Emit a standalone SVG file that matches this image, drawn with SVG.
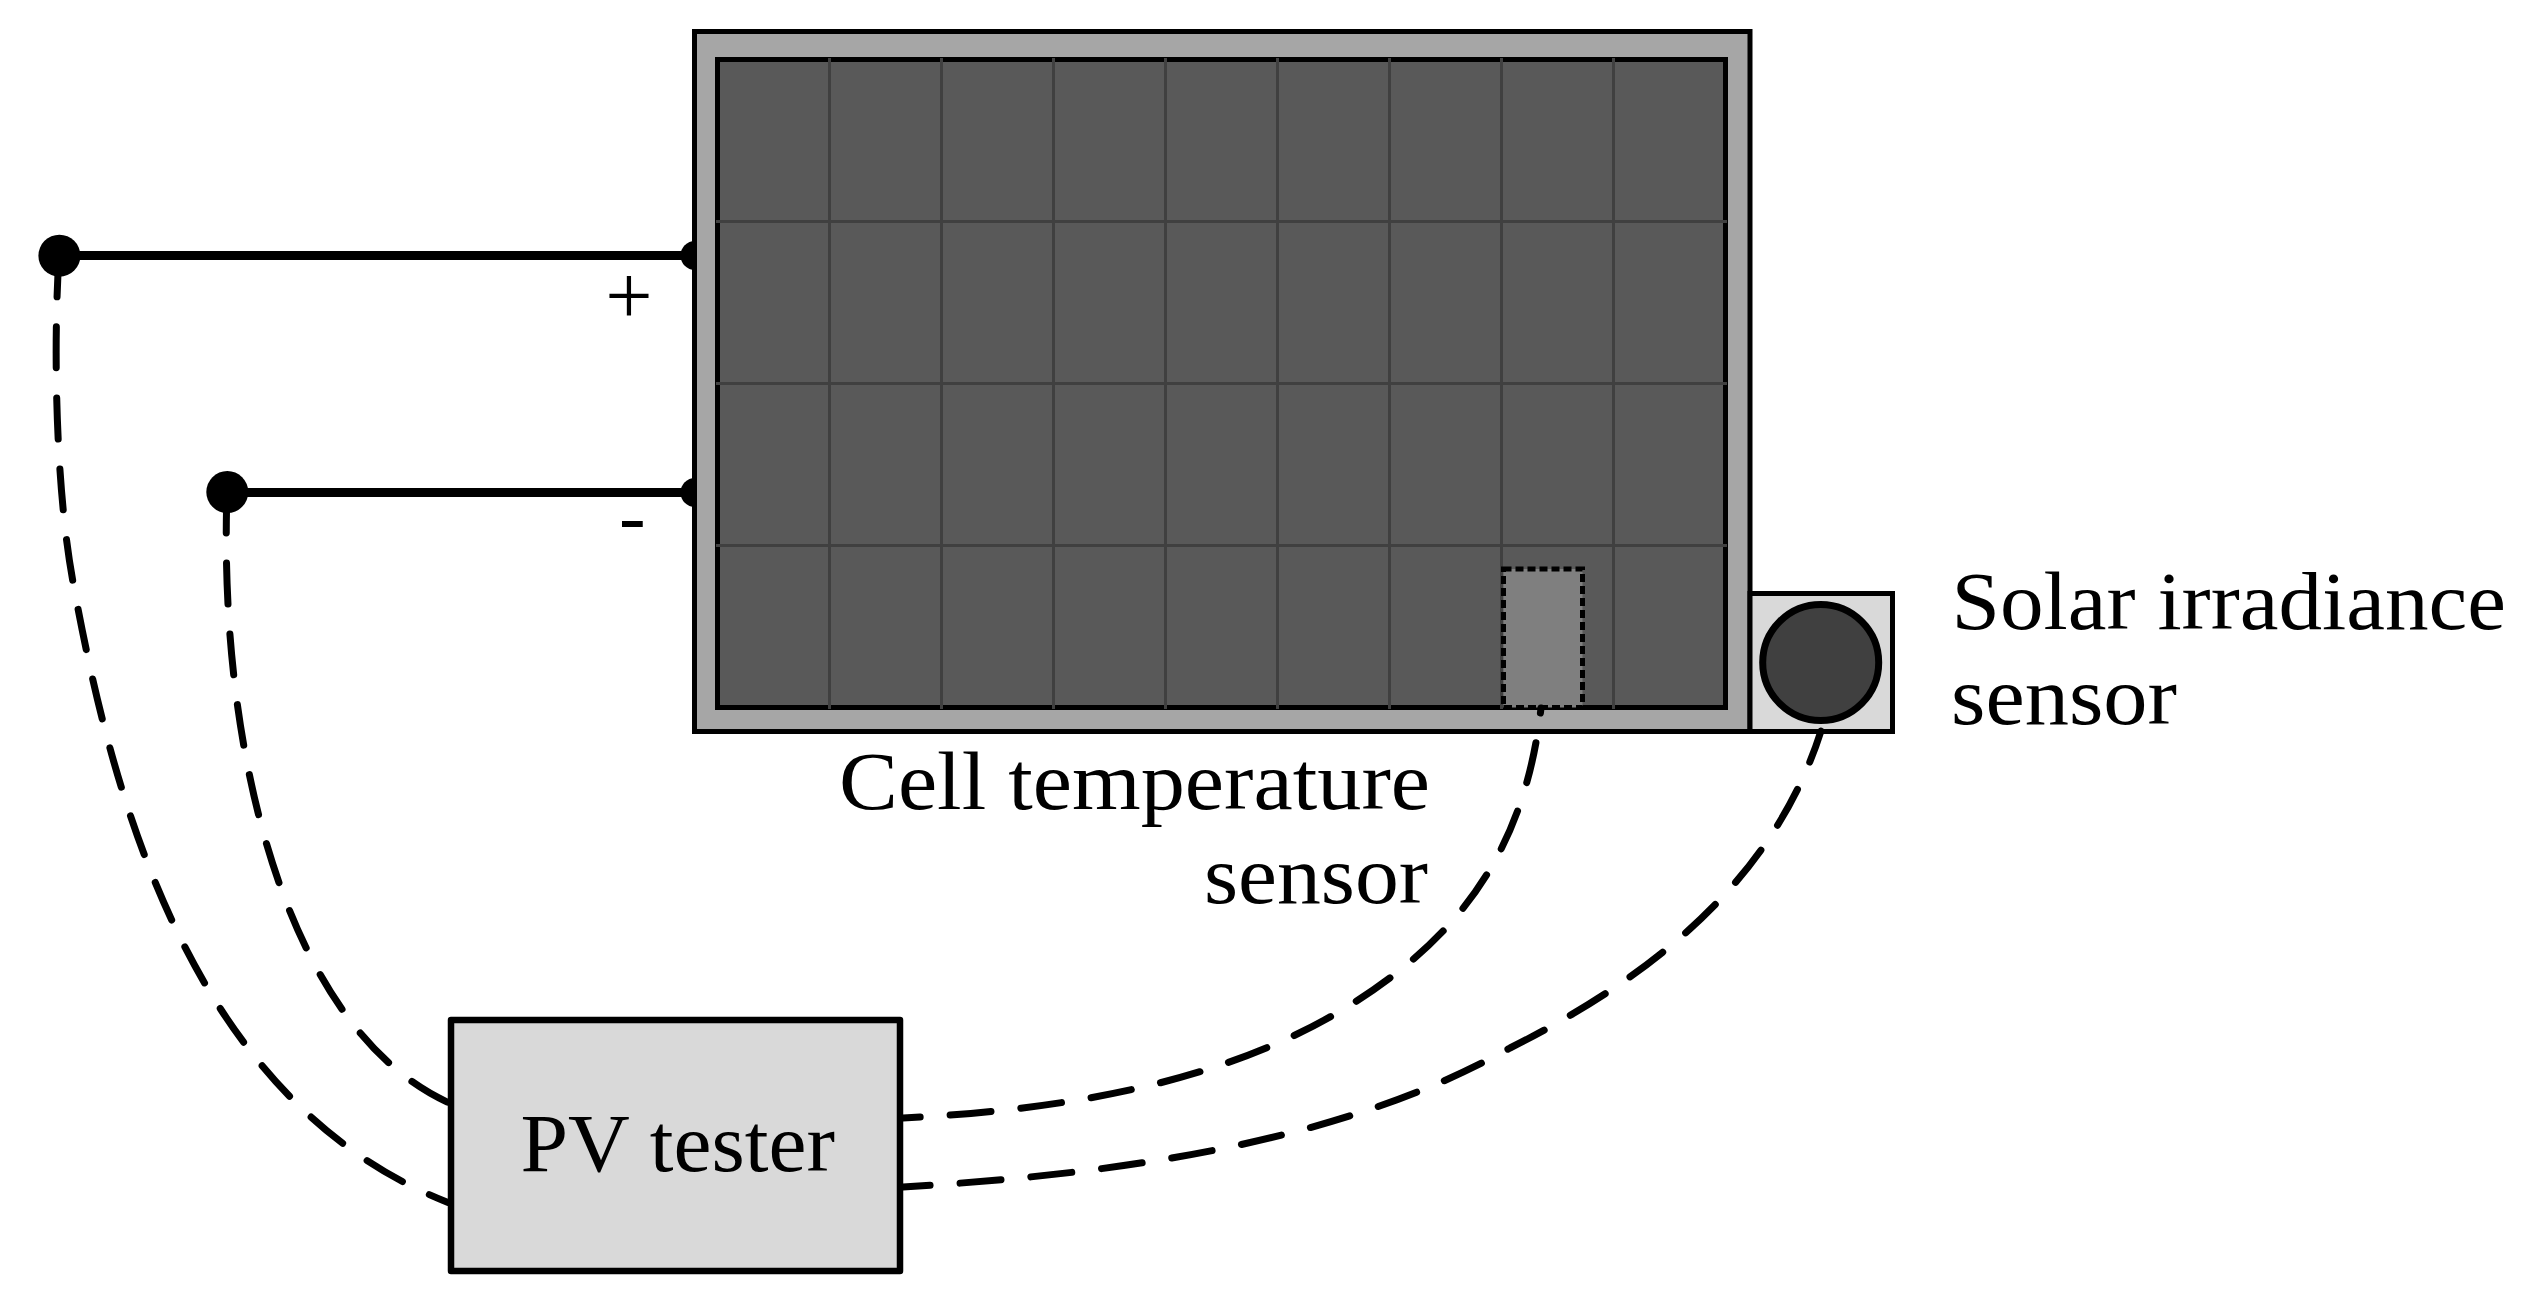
<svg xmlns="http://www.w3.org/2000/svg" width="2531" height="1302" viewBox="0 0 2531 1302">
<style>
.t{font-family:"Liberation Serif","Times New Roman",serif;font-size:82px;fill:#000}
.grid{stroke:#404040;stroke-width:3;fill:none}
.wire{stroke:#000;stroke-width:9;fill:none}
.dash{stroke:#000;stroke-width:7;fill:none;stroke-linecap:round;stroke-dasharray:41 30}
</style>
<rect width="2531" height="1302" fill="#fff"/>
<g id="terminal-plus-left"><circle cx="59.4" cy="255.7" r="21"/></g>
<g id="terminal-minus-left"><circle cx="227.3" cy="492" r="21"/></g>
<g id="terminal-plus-right"><circle cx="695" cy="255.5" r="14.5"/></g>
<g id="terminal-minus-right"><circle cx="695" cy="492.5" r="14.5"/></g>
<g id="pv-panel">
<rect x="694.5" y="31.5" width="1055.5" height="700" fill="#a6a6a6" stroke="#000" stroke-width="5"/>
<rect x="717.5" y="59.5" width="1008" height="648" fill="#595959" stroke="#000" stroke-width="5"/>
<path class="grid" d="M829.5 58V709M941.5 58V709M1053.5 58V709M1165.5 58V709M1277.5 58V709M1389.5 58V709M1501.5 58V709M1613.5 58V709M716 221.5H1727M716 383.5H1727M716 545.500H1727"/>
</g>
<g id="cell-temperature-sensor">
<rect x="1503.5" y="569" width="79" height="138.500" fill="#7f7f7f" stroke="#000" stroke-width="5" stroke-dasharray="8 4"/>
<text class="t" x="839" y="809.300" textLength="591" lengthAdjust="spacingAndGlyphs">Cell temperature</text>
<text class="t" x="1204" y="903.300" textLength="224" lengthAdjust="spacingAndGlyphs">sensor</text>
</g>
<g id="solar-irradiance-sensor">
<rect x="1750" y="593.500" width="142.500" height="138" fill="#d9d9d9" stroke="#000" stroke-width="5"/>
<circle cx="1820.700" cy="662.500" r="58" fill="#404040" stroke="#000" stroke-width="7"/>
<text class="t" x="1951.500" y="629.300" textLength="554.500" lengthAdjust="spacingAndGlyphs">Solar irradiance</text>
<text class="t" x="1951" y="724" textLength="226" lengthAdjust="spacingAndGlyphs">sensor</text>
</g>
<g id="pv-tester">
<rect x="451" y="1020" width="449" height="251" fill="#d9d9d9" stroke="#000" stroke-width="6.500" stroke-linejoin="round"/>
<text class="t" x="520.500" y="1170.500" textLength="314.500" lengthAdjust="spacingAndGlyphs">PV tester</text>
</g>
<g id="polarity-labels">
<text class="t" x="605.300" y="324" style="font-size:84px">+</text>
<text class="t" x="619" y="543" style="font-size:80px">-</text>
</g>
<g id="connectors">
<path class="wire" d="M59 255.5H692"/>
<path class="wire" d="M227 492.5H692"/>
<path class="dash" d="M59 256C53 350 56 490 73 582C113 802 193 1102 448 1202.500"/>
<path class="dash" d="M227 492C218 760 290 1030 448 1102.400"/>
<path class="dash" stroke-dashoffset="36" d="M1541 708C1524 860 1450 941 1355.500 1001.700C1224.800 1085 1058 1110 903 1118"/>
<path class="dash" stroke-dashoffset="8" d="M1821 731C1772 885 1645 980 1510 1048C1336 1146 1103 1175 903 1187"/>
</g>
</svg>
